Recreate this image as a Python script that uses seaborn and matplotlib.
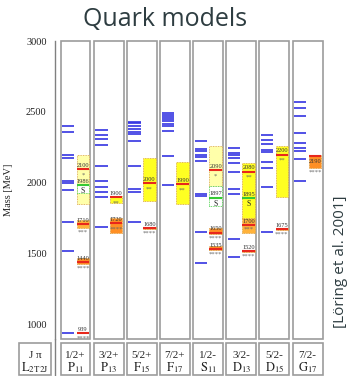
import matplotlib
matplotlib.use("Agg")
import matplotlib.pyplot as plt
import matplotlib.transforms as mtransforms
from matplotlib.patches import Rectangle
from matplotlib.lines import Line2D
import seaborn as sns

# Partial waves (columns)
waves = ["P", "P", "F", "F", "S", "D", "D", "G"]
wave_sub = ["11", "13", "15", "17", "11", "13", "15", "17"]
j_parity = ["1/2+", "3/2+", "5/2+", "7/2+", "1/2-", "3/2-", "5/2-", "7/2-"]

# Quark-model levels [MeV] per partial wave
model_P11 = [2404, 2361, 2200, 2174, 2013, 1999, 1951, 1728, 1521, 940]
model_P13 = [2373, 2340, 2310, 2268, 2118, 2012, 1970, 1934, 1901, 1688]
model_F15 = [2432, 2420, 2403, 2380, 2359, 2343, 2296, 2118, 1960, 1934, 1723]
model_F17 = [2492, 2478, 2465, 2450, 2434, 2415, 2398, 2365, 2190, 1988]
model_S11 = [2298, 2240, 2228, 2195, 2182, 2155, 1920, 1905, 1657, 1436]
model_D13 = [2246, 2209, 2199, 2176, 2143, 2077, 1960, 1925, 1608, 1477]
model_D15 = [2340, 2303, 2273, 2232, 2220, 2150, 2103, 1970, 1655]
model_G17 = [2573, 2526, 2474, 2354, 2280, 2244, 2227, 2169, 2014]
model_levels = [model_P11, model_P13, model_F15, model_F17,
                model_S11, model_D13, model_D15, model_G17]

# Observed resonances: column, mass, mass range, rating
exp_wave = [0, 0, 0, 0, 0, 1, 1, 2, 2, 3, 4, 4, 4, 4, 5, 5, 5, 5, 6, 6, 7]
exp_mass = [939, 1440, 1710, 2100, 1986, 1720, 1900, 1680, 2000, 1990,
            1535, 1650, 2090, 1897, 1520, 1700, 2080, 1895, 1675, 2200, 2190]
exp_lo = [939, 1430, 1680, 1850, 1930, 1650, 1860, 1675, 1870, 1850,
          1525, 1640, 1975, 1840, 1515, 1650, 1750, 1895, 1670, 1900, 2105]
exp_hi = [939, 1470, 1740, 2200, 1990, 1750, 1905, 1690, 2175, 2150,
          1555, 1680, 2260, 1975, 1530, 1750, 2140, 1895, 1685, 2260, 2195]
exp_rating = ["****", "****", "***", "*", "S", "****", "**", "****", "**", "**",
              "****", "****", "*", "S", "****", "***", "**", "S", "****", "**", "****"]

sns.set_theme(style="white")
plt.rcParams["mathtext.fontset"] = "stix"
SERIF = ["Liberation Serif", "DejaVu Serif"]
SANS = ["Open Sans", "DejaVu Sans"]

W, H = 352, 376
fig = plt.figure(figsize=(W / 100, H / 100), dpi=100)
ax = fig.add_axes([55 / W, (H - 339) / H, (324 - 55) / W, (339 - 41) / H])
ax.set_xlim(-0.166, 7.95)
ax.set_ylim(900, 3000)

for s in ["top", "right", "bottom"]:
    ax.spines[s].set_visible(False)
ax.spines["left"].set_color("#808080")
ax.spines["left"].set_linewidth(1.0)
ax.set_xticks([])
ax.set_yticks([1000, 1500, 2000, 2500, 3000])
ax.tick_params(axis="y", direction="out", length=4, width=0.9, color="#808080",
               pad=2, labelsize=7.5, labelcolor="#222222")
for lab in ax.get_yticklabels():
    lab.set_family(SERIF)
ax.set_ylabel("Mass [MeV]", family=SERIF, fontsize=7.5, color="#222222")
ax.yaxis.set_label_coords(-(55 - 13) / 269, 0.5)

PANEL_W = 0.905
frame_col = "#9c9c9c"

fill_by_rating = {"****": "#ff8f24", "***": "#ffb23a", "**": "#ffff22",
                  "*": "#ffffaa", "S": "#ffffff"}

for i in range(8):
    ax.add_patch(Rectangle((i, 900), PANEL_W, 2100, fill=False,
                           edgecolor=frame_col, lw=1.2, clip_on=False, zorder=1))
    ax.hlines(model_levels[i], i + 0.05, i + 0.42, color="#3434e2", lw=1.2, zorder=3)

for w, m, lo, hi, r in zip(exp_wave, exp_mass, exp_lo, exp_hi, exp_rating):
    xl, xr = w + 0.49, w + 0.87
    xc = 0.5 * (xl + xr)
    is_s = r == "S"
    if hi > lo:
        ax.add_patch(Rectangle((xl, lo), xr - xl, hi - lo,
                               facecolor=fill_by_rating[r],
                               edgecolor="#3fcf3f" if is_s else "#d9a040",
                               lw=0.6, ls=(0, (1, 1)), zorder=2))
    ax.hlines(m, xl, xr, color="#35c935" if is_s else "#e8271c",
              lw=1.5, zorder=4)
    # mass label above the line, or below it when the line sits on the box top
    if hi - lo >= 80 and hi - m < 15:
        ax.text(xc, m - 20, str(m), ha="center", va="top", family=SERIF,
                fontsize=4.6, color="#333333", zorder=5)
    else:
        ax.text(xc, m + 8, str(m), ha="center", va="bottom", family=SERIF,
                fontsize=4.6, color="#333333", zorder=5)
    # rating stars
    if r in ("*", "**"):
        ys, vs = m - 25, "top"
    elif is_s:
        ys, vs = m - 18, "top"
    elif hi - lo >= 100 and hi - m >= 15:
        ys, vs = lo + 8, "bottom"
    else:
        ys, vs = min(lo, m) - 12, "top"
    ax.text(xc, ys, r, ha="center", va=vs, family=SERIF,
            fontsize=5.5 if is_s else 4.8,
            color="#222222" if is_s else "#666666", zorder=5)

# Quantum-number row under the panels
blend = mtransforms.blended_transform_factory(ax.transData, fig.transFigure)
row_lo, row_hi = 1 / H, (H - 343) / H
for i in range(8):
    fig.add_artist(Rectangle((i, row_lo), PANEL_W, row_hi - row_lo, fill=False,
                             edgecolor=frame_col, lw=1.2, transform=blend))
    fig.text(i + PANEL_W / 2, 1 - 356 / H, j_parity[i], transform=blend,
             ha="center", va="center", family=SERIF, fontsize=8, color="#222222")
    fig.text(i + PANEL_W / 2, 1 - 368 / H,
             r"$\mathrm{%s}_{%s}$" % (waves[i], wave_sub[i]), transform=blend,
             ha="center", va="center", fontsize=9, color="#222222")
fig.add_artist(Rectangle((-1.252, row_lo), 0.965, row_hi - row_lo, fill=False,
                         edgecolor=frame_col, lw=1.2, transform=blend))
fig.text(-0.77, 1 - 356 / H, "J π", transform=blend, ha="center", va="center",
         family=SERIF, fontsize=8, color="#222222")
fig.text(-0.77, 1 - 368 / H, r"$\mathrm{L}_{\mathrm{2T\,2J}}$", transform=blend,
         ha="center", va="center", fontsize=9, color="#222222")
fig.add_artist(Line2D([-0.166, -0.166], [0, (H - 339) / H], transform=blend,
                      color="#808080", lw=1.0))

fig.text(165 / W, 1 - 19 / H, "Quark models", ha="center", va="center",
         family=SANS, fontsize=18, color="#2e3d41")
fig.text(341 / W, 1 - 262 / H, "[Löring et al. 2001]", rotation=90,
         ha="center", va="center", family=SANS, fontsize=11, color="#2e3d41")

fig.savefig("out.png", dpi=100)
